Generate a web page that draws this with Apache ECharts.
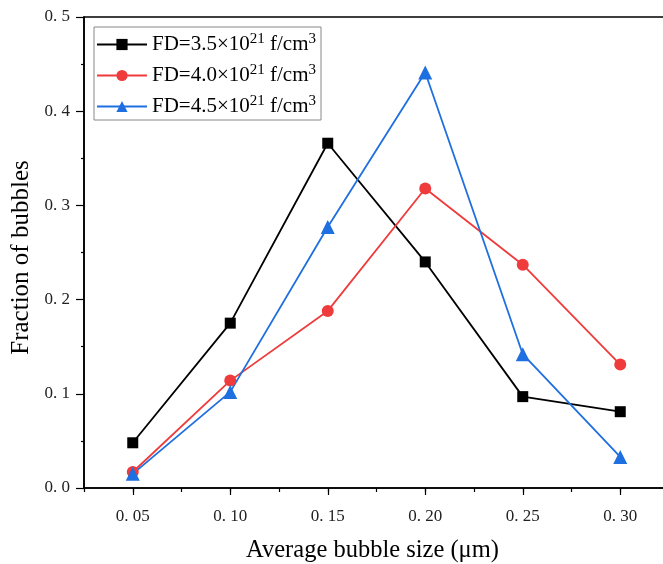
<!DOCTYPE html>
<html>
<head>
<meta charset="utf-8">
<script src="https://cdn.jsdelivr.net/npm/echarts@6/dist/echarts.min.js"></script>
<style>
  html, body { margin: 0; padding: 0; background: #fff; }
  #chart { width: 663px; height: 564px; }
</style>
</head>
<body>
<div id="chart"></div>
<script>
// bubble size (um)
const sizes = [0.05, 0.10, 0.15, 0.20, 0.25, 0.30];
// fraction of bubbles per fluence
const fd35 = [0.048, 0.175, 0.366, 0.240, 0.097, 0.081];
const fd40 = [0.017, 0.114, 0.188, 0.318, 0.237, 0.131];
const fd45 = [0.015, 0.102, 0.277, 0.441, 0.142, 0.033];
const seriesNames = ['FD=3.5×10{sup|21} f/cm{sup|3}', 'FD=4.0×10{sup|21} f/cm{sup|3}', 'FD=4.5×10{sup|21} f/cm{sup|3}'];

const font = '"Liberation Serif", "DejaVu Serif", serif';

const pairs = (ys) => sizes.map((x, i) => [x, ys[i]]);

const chart = echarts.init(document.getElementById('chart'));

const mkSeries = (name, data, color, symbol, symbolSize) => ({
    name: name,
    type: 'line',
    data: pairs(data),
    symbol: symbol,
    symbolSize: symbolSize,
    showSymbol: true,
    lineStyle: { color: color, width: 1.8 },
    itemStyle: { color: color },
    emphasis: { disabled: true },
    animation: false
});

const tickLabel = (v) => v.toFixed(2).replace('.', '. ');

const option = {
    backgroundColor: '#fff',
    animation: false,
    grid: {
        left: 84,
        top: 17,
        width: 585,
        height: 471,
        outerBoundsMode: 'none',
        containLabel: false,
        show: true,
        borderColor: '#000',
        borderWidth: 1.6
    },
    legend: {
        left: 94,
        top: 27,
        orient: 'vertical',
        itemWidth: 50,
        itemHeight: 14,
        itemGap: 8,
        padding: [5, 5, 3, 2],
        borderColor: '#888',
        borderWidth: 1,
        backgroundColor: '#fff',
        textStyle: {
            fontFamily: font,
            fontSize: 21,
            color: '#000',
            rich: {
                sup: { fontFamily: font, fontSize: 15, verticalAlign: 'top', padding: [0, 0, 10, 0], color: '#000' }
            }
        },
        data: seriesNames
    },
    xAxis: [{
        type: 'value',
        min: 0.025,
        max: 0.325,
        interval: 0.025,
        name: 'Average bubble size (μm)',
        nameLocation: 'middle',
        nameGap: 50,
        nameTextStyle: { fontFamily: font, fontSize: 24.5, color: '#000', padding: [0, 8, 0, 0] },
        axisLine: { onZero: false, lineStyle: { color: '#000', width: 1.6 } },
        axisTick: { show: true, inside: false, length: 7, customValues: sizes, lineStyle: { color: '#000', width: 1.2 } },
        axisLabel: {
            margin: 20,
            fontFamily: font,
            fontSize: 17,
            color: '#222',
            customValues: sizes,
            formatter: tickLabel
        },
        splitLine: { show: false }
    }, {
        // minor ticks every 0.025
        type: 'value',
        position: 'bottom',
        min: 0.025,
        max: 0.325,
        interval: 0.025,
        axisLine: { show: false },
        axisTick: { show: true, inside: false, length: 4, lineStyle: { color: '#000', width: 1.2 } },
        axisLabel: { show: false },
        splitLine: { show: false }
    }],
    yAxis: {
        type: 'value',
        min: 0,
        max: 0.5,
        interval: 0.1,
        name: 'Fraction of bubbles',
        nameLocation: 'middle',
        nameGap: 50,
        nameTextStyle: { fontFamily: font, fontSize: 25, color: '#000', padding: [0, 10, 0, 0] },
        axisLine: { show: true, lineStyle: { color: '#000', width: 1.6 } },
        axisTick: { show: true, inside: false, length: 8, lineStyle: { color: '#000', width: 1.2 } },
        minorTick: { show: true, splitNumber: 2, length: 3, lineStyle: { color: '#000', width: 1.2 } },
        axisLabel: {
            margin: 14,
            fontFamily: font,
            fontSize: 17,
            color: '#222',
            formatter: (v) => v.toFixed(1).replace('.', '. ')
        },
        splitLine: { show: false }
    },
    series: [
        mkSeries(seriesNames[0], fd35, '#000000', 'rect', 11),
        mkSeries(seriesNames[1], fd40, '#ef3b3b', 'circle', 12),
        mkSeries(seriesNames[2], fd45, '#1e6fe0', 'triangle', 14)
    ]
};

chart.setOption(option);
</script>
</body>
</html>
